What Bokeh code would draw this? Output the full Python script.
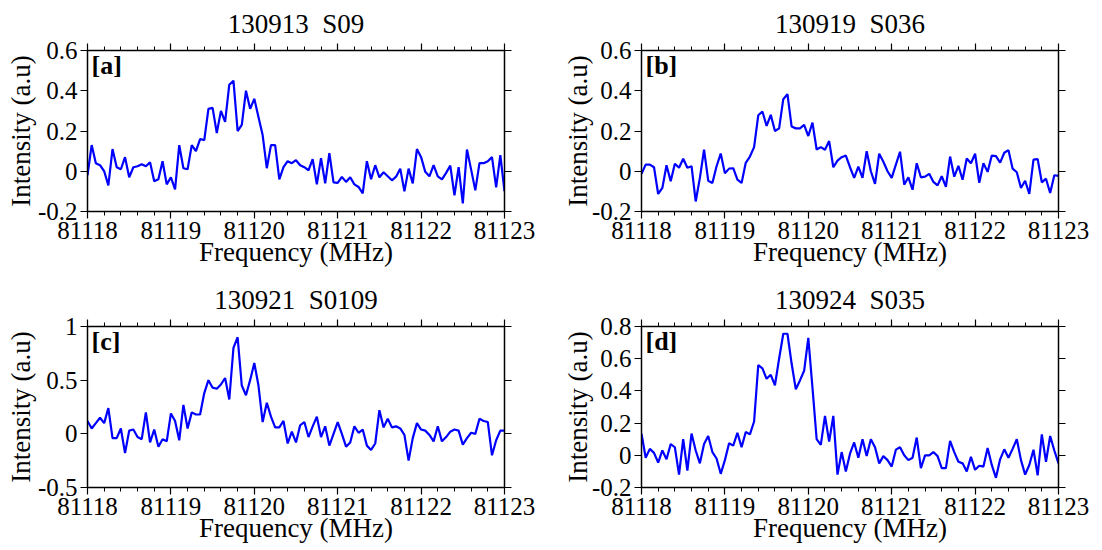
from bokeh.plotting import figure
from bokeh.layouts import column, row
from bokeh.models import Range1d, FixedTicker, LinearAxis, CustomJSTickFormatter, Label
from bokeh.embed import file_html
from bokeh.resources import INLINE
import numpy as np

# ---------------- data ----------------
freq = np.linspace(81118.0, 81123.0, 101)
x_ticks = [81118, 81119, 81120, 81121, 81122, 81123]

titles = ["130913 \u00a0S09", "130919 \u00a0S036", "130921 \u00a0S0109", "130924 \u00a0S035"]
tags = ["[a]", "[b]", "[c]", "[d]"]

int_a = [-0.02, 0.13, 0.04, 0.03, 0.0, -0.07, 0.11, 0.02, 0.01, 0.07,
         -0.03, 0.02, 0.025, 0.035, 0.025, 0.045, -0.05, -0.04, 0.05, -0.065,
         -0.03, -0.09, 0.13, 0.015, 0.01, 0.13, 0.10, 0.16, 0.155, 0.31,
         0.315, 0.19, 0.30, 0.245, 0.43, 0.45, 0.20, 0.23, 0.40, 0.31,
         0.36, 0.27, 0.18, 0.015, 0.13, 0.13, -0.04, 0.02, 0.05, 0.04,
         0.055, 0.03, 0.02, 0.005, 0.06, -0.065, 0.065, -0.06, 0.09, -0.055,
         -0.058, -0.028, -0.053, -0.03, -0.065, -0.078, -0.11, 0.05, -0.04, 0.03,
         -0.03, -0.005, -0.025, -0.045, -0.027, 0.013, -0.1, 0.013, -0.06, 0.11,
         0.07, -0.003, -0.025, 0.03, -0.025, -0.04, -0.008, 0.028, -0.12, 0.02,
         -0.16, 0.108, 0.008, -0.095, 0.04, 0.04, 0.05, 0.07, -0.08, 0.08, -0.1]

int_b = [-0.013, 0.033, 0.033, 0.02, -0.113, -0.083, 0.03, -0.05, 0.037, 0.017,
         0.062, 0.017, 0.025, -0.15, -0.033, 0.107, -0.047, -0.058, 0.025, 0.088,
         -0.01, 0.013, 0.015, -0.042, -0.058, 0.042, 0.073, 0.12, 0.278, 0.297,
         0.225, 0.28, 0.2, 0.213, 0.358, 0.383, 0.222, 0.213, 0.213, 0.23,
         0.175, 0.242, 0.108, 0.12, 0.107, 0.15, 0.02, 0.053, 0.07, 0.078,
         0.02, -0.033, 0.023, -0.033, 0.1, 0.0, -0.063, 0.087, 0.047, 0.0,
         -0.033, 0.033, 0.097, -0.067, -0.03, -0.092, 0.04, -0.03, -0.027, -0.013,
         -0.053, -0.07, -0.025, -0.077, 0.073, -0.027, 0.027, -0.042, 0.063, 0.04,
         0.087, -0.057, 0.04, -0.003, 0.078, 0.075, 0.043, 0.092, 0.105, 0.013,
         -0.005, -0.083, -0.047, -0.113, 0.058, 0.06, -0.055, -0.037, -0.108, -0.02, -0.023]

int_c = [0.12, 0.05, 0.10, 0.15, 0.10, 0.24, -0.04, -0.04, 0.05, -0.18,
         0.03, 0.04, -0.03, -0.05, 0.20, -0.08, 0.04, -0.12, -0.05, -0.07,
         0.19, 0.12, -0.06, 0.27, 0.05, 0.20, 0.18, 0.18, 0.38, 0.50,
         0.43, 0.42, 0.46, 0.52, 0.32, 0.80, 0.90, 0.45, 0.36, 0.50,
         0.66, 0.45, 0.11, 0.29, 0.16, 0.06, 0.06, 0.12, -0.09, 0.02,
         -0.08, 0.08, 0.11, -0.03, 0.07, 0.16, -0.03, 0.07, -0.11, 0.0,
         0.11, 0.0, -0.12, -0.08, 0.07, 0.01, 0.04, -0.11, -0.15, -0.09,
         0.22, 0.06, 0.14, 0.06, 0.07, 0.05, -0.01, -0.25, -0.04, 0.10,
         0.04, 0.03, -0.01, -0.07, 0.07, -0.07, -0.03, 0.02, 0.04, 0.03,
         -0.10, -0.04, 0.01, 0.0, 0.14, 0.12, 0.11, -0.20, -0.06, 0.03, 0.03]

int_d = [0.135, -0.015, 0.04, 0.015, -0.045, 0.03, -0.025, 0.07, 0.05, -0.12,
         0.10, -0.095, 0.135, 0.03, -0.05, 0.07, 0.12, 0.02, -0.02, -0.115,
         -0.03, 0.075, 0.06, 0.14, 0.05, 0.145, 0.13, 0.21, 0.56, 0.54,
         0.475, 0.50, 0.435, 0.60, 0.755, 0.755, 0.57, 0.41, 0.465, 0.525,
         0.73, 0.42, 0.10, 0.065, 0.245, 0.085, 0.245, -0.12, 0.02, -0.10,
         0.01, 0.08, -0.015, 0.10, -0.005, 0.10, 0.05, -0.05, -0.005, -0.03,
         -0.07, 0.035, 0.05, 0.0, -0.03, -0.015, 0.11, -0.08, 0.0, 0.0,
         0.02, -0.005, -0.08, -0.08, 0.09, 0.02, -0.04, -0.05, -0.10, -0.01,
         -0.09, -0.065, -0.07, 0.045, -0.06, -0.14, -0.025, 0.037, -0.015, 0.04,
         0.10, -0.03, -0.12, -0.06, 0.035, -0.125, 0.13, -0.04, 0.12, 0.03, -0.05]

y_ranges = [(-0.2, 0.6), (-0.2, 0.6), (-0.5, 1.0), (-0.2, 0.8)]
y_ticks = [[-0.2, 0, 0.2, 0.4, 0.6],
           [-0.2, 0, 0.2, 0.4, 0.6],
           [-0.5, 0, 0.5, 1],
           [-0.2, 0, 0.2, 0.4, 0.6, 0.8]]

FONT = "Liberation Serif"
x_minor = [round(81118 + 0.2 * i, 1) for i in range(26)]


def style_axis(ax, ticker, fmt, label_font="25px"):
    ax.ticker = ticker
    ax.formatter = fmt
    ax.major_tick_in = 0
    ax.major_tick_out = 7
    ax.minor_tick_in = 0
    ax.minor_tick_out = 4
    ax.axis_line_color = "black"
    ax.axis_line_width = 1.5
    ax.major_tick_line_color = "black"
    ax.major_tick_line_width = 1.2
    ax.minor_tick_line_color = "black"
    ax.minor_tick_line_width = 1.0
    ax.major_label_text_font = FONT
    ax.major_label_text_font_size = label_font
    ax.major_label_text_color = "black"
    ax.axis_label_text_font = FONT
    ax.axis_label_text_font_size = "27px"
    ax.axis_label_text_font_style = "normal"
    ax.axis_label_text_color = "black"


def make_panel(i, width, height, bl, br, bt, bb, ylab_standoff):
    yr = y_ranges[i]
    p = figure(width=width, height=height, output_backend="svg", toolbar_location=None,
               x_range=Range1d(81118, 81123), y_range=Range1d(yr[0], yr[1]),
               min_border_left=bl, min_border_right=br, min_border_top=bt,
               min_border_bottom=bb, title=titles[i])
    p.grid.visible = False
    p.outline_line_color = None
    p.background_fill_color = "white"
    p.border_fill_color = "white"

    p.title.text_font = FONT
    p.title.text_font_size = "27px"
    p.title.text_font_style = "normal"
    p.title.text_color = "black"
    p.title.align = "center"
    p.title.standoff = 9

    vals = [int_a, int_b, int_c, int_d][i]
    p.line(freq, vals, line_color="#0000ff", line_width=2.2)

    xt = FixedTicker(ticks=x_ticks, minor_ticks=x_minor)
    yt = FixedTicker(ticks=y_ticks[i], minor_ticks=[])
    xfmt = CustomJSTickFormatter(code="return tick.toFixed(0)")
    yfmt = CustomJSTickFormatter(code="return String(Math.round(tick*10)/10)")
    empty = CustomJSTickFormatter(code="return ''")

    style_axis(p.xaxis[0], xt, xfmt, "25px")
    p.xaxis[0].major_label_standoff = 3
    p.xaxis[0].axis_label = "Frequency (MHz)"
    p.xaxis[0].axis_label_standoff = -5

    style_axis(p.yaxis[0], yt, yfmt, "25px")
    p.yaxis[0].major_label_standoff = 3
    p.yaxis[0].axis_label = "Intensity (a.u)"
    p.yaxis[0].axis_label_standoff = ylab_standoff

    top = LinearAxis()
    style_axis(top, FixedTicker(ticks=x_ticks, minor_ticks=x_minor), empty, "1px")
    top.major_label_standoff = 0
    p.add_layout(top, "above")
    right = LinearAxis()
    style_axis(right, FixedTicker(ticks=y_ticks[i], minor_ticks=[]), empty, "1px")
    right.major_label_standoff = 0
    p.add_layout(right, "right")

    lab = Label(x=81118, y=yr[1], x_offset=4, y_offset=0, text=tags[i],
                text_font=FONT, text_font_size="26px", text_font_style="bold",
                text_color="black", text_baseline="top", text_align="left")
    p.add_layout(lab)
    return p


pa = make_panel(0, 554, 276, 87, 50, 50, 65, -1)
pb = make_panel(1, 548, 276, 87, 44, 50, 65, -4)
pc = make_panel(2, 554, 274, 87, 50, 50, 63, -1)
pd = make_panel(3, 548, 274, 87, 44, 50, 63, -4)

layout = column(row(pa, pb), row(pc, pd))

open("out.html", "w").write(file_html(layout, INLINE))
